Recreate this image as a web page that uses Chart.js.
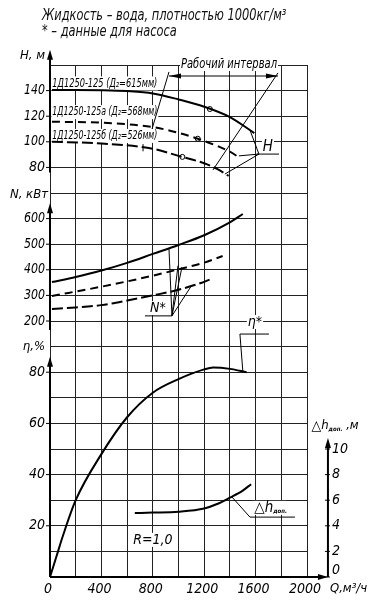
<!DOCTYPE html>
<html lang="ru">
<head>
<meta charset="utf-8">
<title>1Д1250-125</title>
<script src="https://cdn.jsdelivr.net/npm/chart.js@4/dist/chart.umd.min.js"></script>
<style>
  html, body { margin: 0; padding: 0; background: #fff; }
  #wrap { position: relative; width: 372px; height: 611px; }
  canvas { position: absolute; left: 0; top: 0; }
  .cap { position: absolute; left: 42px; font: italic 15px "Liberation Sans Narrow", "DejaVu Sans Condensed", sans-serif; color: #111; white-space: nowrap; line-height: 16px; transform: scaleX(0.845); transform-origin: left center; }
</style>
</head>
<body>
<div id="wrap">
  <canvas id="c" width="372" height="611"></canvas>
  <div class="cap" style="top:7px">Жидкость – вода, плотностью 1000кг/м³</div>
  <div class="cap" style="top:23px">* – данные для насоса</div>
</div>
<script>
// подписи делений
const qTicks = [0, 400, 800, 1200, 1600, 2000];
const hTicks = [80, 100, 120, 140];
const nTicks = [200, 300, 400, 500, 600];
const etaTicks = [20, 40, 60, 80];
const dhTicks = [0, 2, 4, 6, 8, 10];

const curveNames = ['1Д1250-125 (Д₂=615мм)', '1Д1250-125а (Д₂=568мм)', '1Д1250-125б (Д₂=526мм)'];

// напор H, м
const qH1 = [15, 200, 400, 600, 800, 1000, 1200, 1400, 1590];
const h1 = [140.4, 140.5, 140.3, 139.6, 137.8, 133.1, 127.4, 119.3, 106.8];
const qH2 = [15, 400, 800, 1000, 1150, 1300, 1400, 1480];
const h2 = [115.7, 114.9, 111.5, 107, 102.4, 96.8, 92.3, 87.2];
const qH3 = [15, 400, 800, 1000, 1200, 1300, 1390];
const h3 = [100, 98.7, 94.6, 89, 83.2, 78.8, 73.4];

// рабочие точки (кружки)
const qOpt = [1244, 1150, 1030];
const hOpt = [125.6, 102.4, 88.2];

// мощность N, кВт
const qN1 = [15, 200, 400, 600, 800, 1000, 1200, 1400, 1500];
const n1 = [352, 372, 397, 427, 462, 497, 535, 585, 618];
const qN2 = [15, 400, 800, 1000, 1200, 1343];
const n2 = [298, 334, 377, 402, 428, 454];
const qN3 = [15, 200, 400, 611, 800, 1000, 1200, 1270];
const n3 = [247, 253, 262, 281, 300, 322, 353, 368];

// КПД, %
const qEta = [0, 50, 100, 200, 400, 600, 800, 1000, 1200, 1270, 1400, 1530];
const eta = [0, 8, 16, 30, 48, 62.4, 72, 77.3, 81.1, 81.8, 81.3, 80];

// допускаемый кавитационный запас, м
const qDh = [660, 800, 1000, 1200, 1300, 1400, 1500, 1565];
const dh = [5.0, 5.03, 5.1, 5.35, 5.7, 6.2, 6.75, 7.25];

const FONT = '"Liberation Sans Narrow", "DejaVu Sans Condensed", sans-serif';
const pts = (xs, ys) => xs.map((x, i) => ({x, y: ys[i]}));

function curve(xs, ys, axis, dash) {
  return {
    data: pts(xs, ys), yAxisID: axis, borderColor: '#000', borderWidth: 2,
    borderDash: dash, pointRadius: 0, fill: false, cubicInterpolationMode: 'monotone'
  };
}

function hiddenAxis(min, max) {
  return {
    type: 'linear', position: 'left', min, max,
    ticks: {display: false}, grid: {display: false}, border: {display: false},
    afterFit: s => { s.width = 0; }
  };
}

// текст на белой подложке (maxW сжимает по ширине)
function textBox(ctx, str, x, y, align, maxW) {
  let w = ctx.measureText(str).width;
  if (maxW && w > maxW) w = maxW;
  const left = align === 'center' ? x - w / 2 : x;
  ctx.fillStyle = '#fff';
  ctx.fillRect(left - 1, y - 7, w + 2, 14);
  ctx.fillStyle = '#000';
  ctx.textAlign = 'left';
  if (maxW) ctx.fillText(str, left, y, maxW);
  else ctx.fillText(str, left, y);
}

function seg(ctx, a, b) {
  ctx.beginPath(); ctx.moveTo(a[0], a[1]); ctx.lineTo(b[0], b[1]); ctx.stroke();
}

function head(ctx, x, y, dir, len, half) {
  ctx.beginPath();
  ctx.moveTo(x, y);
  if (dir === 'up') { ctx.lineTo(x - half, y + len); ctx.lineTo(x + half, y + len); }
  if (dir === 'right') { ctx.lineTo(x - len, y - half); ctx.lineTo(x - len, y + half); }
  if (dir === 'left') { ctx.lineTo(x + len, y - half); ctx.lineTo(x + len, y + half); }
  ctx.closePath(); ctx.fill();
}

const decor = {
  id: 'decor',
  beforeDatasetsDraw(chart) {
    const ctx = chart.ctx, s = chart.scales;
    const px = q => s.x.getPixelForValue(q);
    const gy = v => s.yE.getPixelForValue(v);
    ctx.save();
    ctx.textBaseline = 'middle';
    // подписи кривых H
    ctx.font = 'italic 12px ' + FONT;
    [192.8, 181.6, 172.3].forEach((g, i) => textBox(ctx, curveNames[i], px(18), gy(g), 'left', 105));
    // прочие надписи
    ctx.font = 'italic 14px ' + FONT;
    textBox(ctx, 'Рабочий интервал', px(1393), gy(200.4), 'center', 96);
    ctx.font = 'italic 15px ' + FONT;
    textBox(ctx, 'H', px(1696), gy(168), 'center');
    ctx.font = 'italic 14px ' + FONT;
    textBox(ctx, 'N*', px(840), gy(105), 'center');
    textBox(ctx, 'η*', px(1595), gy(99.6), 'center');
    textBox(ctx, 'R=1,0', px(801), gy(14.5), 'center');
    // Δh доп
    const dx = px(1590), dyy = gy(27);
    ctx.font = '15px ' + FONT;
    const wt = ctx.measureText('△').width;
    ctx.font = 'italic 15px ' + FONT;
    const wh = ctx.measureText('h').width;
    ctx.fillStyle = '#fff';
    ctx.fillRect(dx - 1, dyy - 7, wt + wh + 14, 14);
    ctx.fillStyle = '#000';
    ctx.textAlign = 'left';
    ctx.font = '15px ' + FONT;
    ctx.fillText('△', dx, dyy);
    ctx.font = 'italic 15px ' + FONT;
    ctx.fillText('h', dx + wt, dyy);
    ctx.font = 'italic bold 6px ' + FONT;
    ctx.fillText('доп.', dx + wt + wh, dyy + 4);
    ctx.restore();
  },
  afterDraw(chart) {
    const ctx = chart.ctx, s = chart.scales;
    const px = q => s.x.getPixelForValue(q);
    const gy = v => s.yE.getPixelForValue(v);
    const P = (q, g) => [px(q), gy(g)];
    const x0 = px(0), y0 = gy(0), xr = px(2163);
    ctx.save();
    ctx.strokeStyle = '#000';
    ctx.fillStyle = '#000';

    // оси
    ctx.lineWidth = 2;
    [[206, 158], [146, 96.5], [86, 0]].forEach(([t, b]) => {
      seg(ctx, [x0, gy(t) + 8], [x0, gy(b)]);
      head(ctx, x0, gy(t), 'up', 10, 3);
    });
    seg(ctx, [x0, y0], [xr - 8, y0]);
    head(ctx, xr, y0, 'right', 10, 3);
    seg(ctx, [xr, y0], [xr, gy(54.3) + 8]);
    head(ctx, xr, gy(54.3), 'up', 10, 3);

    // подписи делений
    ctx.lineWidth = 1;
    ctx.font = 'italic 14px ' + FONT;
    ctx.textBaseline = 'middle';
    ctx.textAlign = 'right';
    const leftTicks = (vals, sc) => vals.forEach(v => {
      const y = sc.getPixelForValue(v);
      ctx.fillText(String(v), x0 - 5, y, 21);
      seg(ctx, [x0 - 4, y], [x0, y]);
    });
    leftTicks(hTicks, s.yH);
    leftTicks(nTicks, s.yN);
    leftTicks(etaTicks, s.yE);
    ctx.textAlign = 'center';
    qTicks.forEach(q => ctx.fillText(String(q), px(q) - 2, y0 + 12));
    ctx.textAlign = 'left';
    dhTicks.forEach(v => {
      const y = s.yD.getPixelForValue(v);
      ctx.fillText(String(v), xr + 4, v === 0 ? y - 7 : y);
      seg(ctx, [xr - 3, y], [xr + 2, y]);
    });

    // названия осей
    ctx.font = 'italic 13px ' + FONT;
    ctx.textAlign = 'right';
    ctx.fillText('H, м', x0 - 5, gy(206) + 6);
    ctx.fillText('N, кВт', x0 - 2, gy(146) - 9);
    ctx.fillText('η,%', x0 - 5, gy(86) - 10);
    ctx.textAlign = 'left';
    ctx.fillText('Q,м³/ч', xr + 2, y0 + 12);
    let ax = px(2035), ay = gy(59);
    ctx.font = '14px ' + FONT;
    ctx.fillText('△', ax, ay);
    ax += ctx.measureText('△').width;
    ctx.font = 'italic 13px ' + FONT;
    ctx.fillText('h', ax, ay);
    ax += ctx.measureText('h').width;
    ctx.font = 'italic bold 6px ' + FONT;
    ctx.fillText('доп.', ax, ay + 3);
    ax += ctx.measureText('доп.').width;
    ctx.font = 'italic 13px ' + FONT;
    ctx.fillText(' ,м', ax, ay);

    // рабочий интервал
    ctx.lineWidth = 1;
    seg(ctx, P(926, 195.7), P(1774, 195.7));
    head(ctx, px(926), gy(195.7), 'left', 12, 2.5);
    head(ctx, px(1774), gy(195.7), 'right', 12, 2.5);
    seg(ctx, P(926, 197.3), P(794, 175));
    seg(ctx, P(724, 169.1), P(724, 166.3));
    seg(ctx, P(1774, 196.9), P(1268, 159));

    // выноски
    seg(ctx, P(1610, 165.2), P(1782, 165.2));
    [[1556, 174.6], [1470, 164.5], [1361, 157.4]].forEach(p => seg(ctx, P(1626, 165.2), P(p[0], p[1])));
    seg(ctx, P(739, 102), P(949, 102));
    [[926, 128.1], [996, 121.6], [1027, 121.1], [1105, 114.1]].forEach(p => seg(ctx, P(949, 102), P(p[0], p[1])));
    seg(ctx, P(1478, 94.9), P(1704, 94.9));
    seg(ctx, P(1478, 94.9), P(1501, 80.1));
    seg(ctx, P(1556, 23.4), P(1906, 23.4));
    seg(ctx, P(1556, 23.4), P(1416, 31.25));
    ctx.restore();
  }
};

new Chart(document.getElementById('c'), {
  type: 'line',
  data: {
    datasets: [
      curve(qH1, h1, 'yH', []),
      curve(qH2, h2, 'yH', [8, 5]),
      curve(qH3, h3, 'yH', [11, 4]),
      {
        data: pts(qOpt, hOpt), yAxisID: 'yH', showLine: false,
        pointRadius: 2.5, pointBackgroundColor: '#fff', pointBorderColor: '#000', pointBorderWidth: 1
      },
      curve(qN1, n1, 'yN', []),
      curve(qN2, n2, 'yN', [8, 5]),
      curve(qN3, n3, 'yN', [11, 4]),
      curve(qEta, eta, 'yE', []),
      curve(qDh, dh, 'yD', [])
    ]
  },
  options: {
    responsive: false,
    animation: false,
    devicePixelRatio: 1,
    layout: {padding: {left: 50, top: 65, right: 65, bottom: 34}},
    plugins: {legend: {display: false}, tooltip: {enabled: false}},
    scales: {
      x: {
        type: 'linear', min: 0, max: 2000,
        ticks: {display: false, stepSize: 200, autoSkip: false},
        grid: {color: '#222', lineWidth: 1, drawTicks: false},
        border: {display: false},
        afterFit: s => { s.height = 0; }
      },
      yE: {
        type: 'linear', position: 'left', min: 0, max: 200,
        ticks: {display: false, stepSize: 10, autoSkip: false},
        grid: {color: '#222', lineWidth: 1, drawTicks: false},
        border: {display: false},
        afterFit: s => { s.width = 0; }
      },
      yH: hiddenAxis(-240, 160),
      yN: hiddenAxis(-800, 1200),
      yD: hiddenAxis(0, 40)
    }
  },
  plugins: [decor]
});
</script>
</body>
</html>
